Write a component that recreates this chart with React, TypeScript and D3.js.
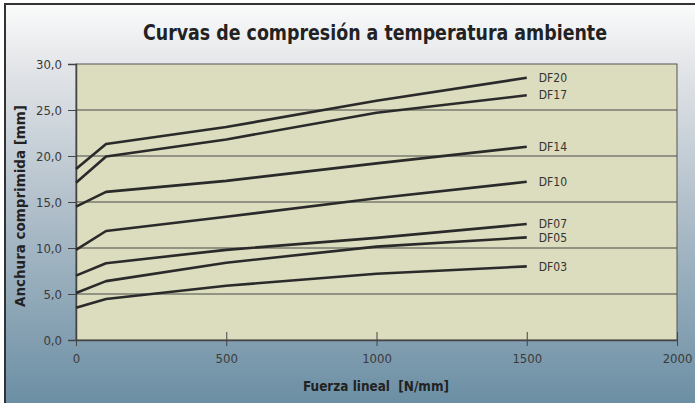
import { useEffect, useRef } from "react";
import * as d3 from "d3";

const forces = [0, 100, 500, 1000, 1500];
const seriesNames = ["DF20", "DF17", "DF14", "DF10", "DF07", "DF05", "DF03"];
const df20 = [18.6, 21.3, 23.15, 26.0, 28.5];
const df17 = [17.1, 19.95, 21.8, 24.7, 26.6];
const df14 = [14.5, 16.1, 17.3, 19.2, 21.0];
const df10 = [9.8, 11.85, 13.4, 15.4, 17.2];
const df07 = [7.0, 8.35, 9.8, 11.1, 12.6];
const df05 = [5.1, 6.4, 8.4, 10.15, 11.15];
const df03 = [3.5, 4.45, 5.9, 7.2, 8.0];
const seriesValues = [df20, df17, df14, df10, df07, df05, df03];
const yTicks = [0, 5, 10, 15, 20, 25, 30];
const xTicks = [0, 500, 1000, 1500, 2000];

const W = 695;
const H = 403;
const FONT = "'DejaVu Sans Condensed', 'DejaVu Sans', sans-serif";

export default function App() {
  const svgRef = useRef<SVGSVGElement>(null);

  useEffect(() => {
    document.body.style.margin = "0";
    if (!svgRef.current) return;
    const svg = d3.select(svgRef.current);
    svg.selectAll("*").remove();

    const margin = { top: 64, right: 18, bottom: 63, left: 76 };
    const x = d3.scaleLinear().domain([0, 2000]).range([margin.left, W - margin.right]);
    const y = d3.scaleLinear().domain([0, 30]).range([H - margin.bottom, margin.top]);

    // background gradient
    const defs = svg.append("defs");
    const grad = defs.append("linearGradient")
      .attr("id", "bg")
      .attr("x1", 0).attr("y1", 0).attr("x2", 0).attr("y2", 1);
    grad.append("stop").attr("offset", "0%").attr("stop-color", "#fafbfb");
    grad.append("stop").attr("offset", "15%").attr("stop-color", "#e4e6e9");
    grad.append("stop").attr("offset", "50%").attr("stop-color", "#b2c0cb");
    grad.append("stop").attr("offset", "100%").attr("stop-color", "#6c8fa4");

    svg.append("rect").attr("width", W).attr("height", H).attr("fill", "#fff");
    svg.append("rect")
      .attr("x", 5).attr("y", 4)
      .attr("width", W - 5).attr("height", H - 4)
      .attr("fill", "url(#bg)");
    svg.append("line")
      .attr("x1", 4).attr("x2", W).attr("y1", 4).attr("y2", 4)
      .attr("stroke", "#333").attr("stroke-width", 2);
    svg.append("line")
      .attr("x1", 5).attr("x2", 5).attr("y1", 4).attr("y2", H)
      .attr("stroke", "#333").attr("stroke-width", 2);

    // title
    svg.append("text")
      .attr("x", 375).attr("y", 40)
      .attr("text-anchor", "middle")
      .attr("font-family", FONT)
      .attr("font-weight", "bold")
      .attr("font-size", 22)
      .attr("fill", "#222")
      .attr("textLength", 464)
      .attr("lengthAdjust", "spacingAndGlyphs")
      .text("Curvas de compresión a temperatura ambiente");

    // plot area
    svg.append("rect")
      .attr("x", x(0)).attr("y", y(30))
      .attr("width", x(2000) - x(0)).attr("height", y(0) - y(30))
      .attr("fill", "#dcdcbe")
      .attr("stroke", "#555").attr("stroke-width", 1);

    // grid
    svg.append("g")
      .selectAll("line")
      .data(yTicks.filter(d => d > 0 && d < 30))
      .join("line")
      .attr("x1", x(0)).attr("x2", x(2000))
      .attr("y1", d => y(d)).attr("y2", d => y(d))
      .attr("stroke", "#4a4a48").attr("stroke-width", 1.2);

    // y axis
    const yAxis = d3.axisLeft(y).tickValues(yTicks).tickSize(8).tickPadding(6)
      .tickFormat(d => d3.format(".1f")(d as number).replace(".", ","));
    svg.append("g")
      .attr("transform", `translate(${x(0)},0)`)
      .call(yAxis)
      .call(g => g.select(".domain").attr("stroke", "#444").attr("stroke-width", 1.5))
      .call(g => g.selectAll(".tick line").attr("stroke", "#444"))
      .call(g => g.selectAll(".tick text")
        .attr("fill", "#3a3a3a").attr("font-size", 13).attr("font-family", FONT));

    // x axis
    const xAxis = d3.axisBottom(x)
      .tickValues(xTicks).tickSizeInner(8).tickSizeOuter(0).tickPadding(6)
      .tickFormat(d3.format("d"));
    svg.append("g")
      .attr("transform", `translate(0,${y(0)})`)
      .call(xAxis)
      .call(g => g.select(".domain").attr("stroke", "#444").attr("stroke-width", 1.5))
      .call(g => g.selectAll(".tick line").attr("stroke", "#444").attr("y1", -8).attr("y2", 6))
      .call(g => g.selectAll(".tick text")
        .attr("fill", "#3a3a3a").attr("font-size", 13).attr("font-family", FONT));

    // lines
    const line = d3.line<number>()
      .x((_, i) => x(forces[i]))
      .y(d => y(d));
    svg.append("g")
      .selectAll("path")
      .data(seriesValues)
      .join("path")
      .attr("d", d => line(d))
      .attr("fill", "none")
      .attr("stroke", "#2a2a2a")
      .attr("stroke-width", 2.6)
      .attr("stroke-linejoin", "round");

    // labels
    svg.append("g")
      .selectAll("text")
      .data(seriesValues)
      .join("text")
      .attr("x", x(forces[forces.length - 1]) + 12)
      .attr("y", d => y(d[d.length - 1]))
      .attr("dy", "0.35em")
      .attr("font-family", FONT)
      .attr("font-size", 12)
      .attr("fill", "#333")
      .text((_, i) => seriesNames[i]);

    // axis titles
    svg.append("text")
      .attr("transform", `translate(25,${(y(0) + y(30)) / 2 + 4}) rotate(-90)`)
      .attr("text-anchor", "middle")
      .attr("font-family", FONT)
      .attr("font-weight", "bold")
      .attr("font-size", 14)
      .attr("fill", "#222")
      .attr("textLength", 202)
      .attr("lengthAdjust", "spacingAndGlyphs")
      .text("Anchura comprimida [mm]");

    svg.append("text")
      .attr("x", 376).attr("y", 391)
      .attr("text-anchor", "middle")
      .attr("font-family", FONT)
      .attr("font-weight", "bold")
      .attr("font-size", 14)
      .attr("fill", "#222")
      .attr("textLength", 146)
      .attr("lengthAdjust", "spacingAndGlyphs")
      .style("white-space", "pre")
      .text("Fuerza lineal  [N/mm]");
  }, []);

  return <svg ref={svgRef} width={W} height={H} style={{ display: "block" }} />;
}
